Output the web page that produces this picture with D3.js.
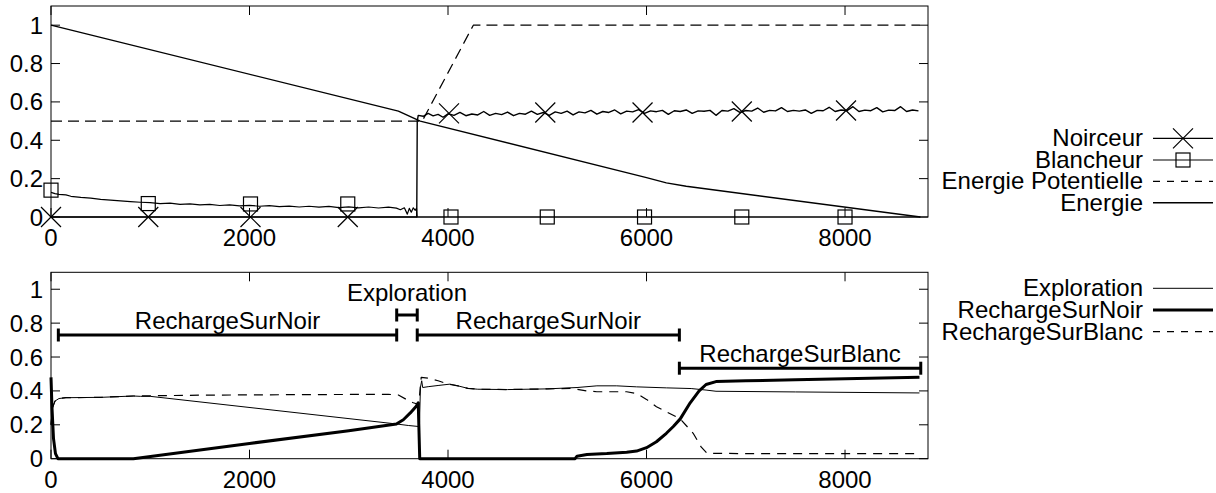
<!DOCTYPE html>
<html>
<head>
<meta charset="utf-8">
<script src="https://cdn.jsdelivr.net/npm/d3@7"></script>
<style>
    body { margin: 0; background: #fff; }
    text { font-family: "Liberation Sans", Arial, sans-serif; font-size: 24px; fill: #000; }
</style>
</head>
<body>
<div id="chartDiv"></div>
<script>
/* * * * * * * * * * * * * *
*           DATA           *
* * * * * * * * * * * * * */

const xTicks = [0, 2000, 4000, 6000, 8000];
const yTicks = [0, 0.2, 0.4, 0.6, 0.8, 1];
const yTickLabels = ['0', '0.2', '0.4', '0.6', '0.8', '1'];

const topLegend = ['Noirceur', 'Blancheur', 'Energie Potentielle', 'Energie'];
const bottomLegend = ['Exploration', 'RechargeSurNoir', 'RechargeSurBlanc'];

// top panel: [time, value]
const noirceur = [
    [0, 0], [3685, 0], [3690, 0.50], [3700, 0.53], [3750, 0.525], [3800, 0.54], [3850, 0.527], [3900, 0.535],
    [3950, 0.52], [4000, 0.538], [4060, 0.53], [4120, 0.545], [4180, 0.528], [4240, 0.537], [4300, 0.532],
    [4360, 0.55], [4420, 0.53], [4480, 0.54], [4540, 0.534], [4600, 0.547], [4660, 0.528], [4720, 0.54],
    [4780, 0.536], [4840, 0.552], [4900, 0.535], [4960, 0.545], [5020, 0.53], [5080, 0.548], [5140, 0.54],
    [5200, 0.552], [5260, 0.532], [5320, 0.548], [5380, 0.543], [5440, 0.556], [5500, 0.536], [5560, 0.55],
    [5620, 0.545], [5680, 0.558], [5740, 0.538], [5800, 0.552], [5860, 0.548], [5920, 0.56], [5980, 0.54],
    [6040, 0.553], [6100, 0.549], [6160, 0.556], [6220, 0.535], [6280, 0.554], [6340, 0.55], [6400, 0.558],
    [6460, 0.54], [6520, 0.553], [6580, 0.551], [6640, 0.556], [6700, 0.53], [6760, 0.555], [6820, 0.552],
    [6880, 0.565], [6940, 0.545], [7000, 0.555], [7060, 0.552], [7120, 0.568], [7180, 0.546], [7240, 0.556],
    [7300, 0.553], [7360, 0.57], [7420, 0.55], [7480, 0.556], [7540, 0.552], [7600, 0.558], [7660, 0.54],
    [7720, 0.556], [7780, 0.554], [7840, 0.572], [7900, 0.55], [7960, 0.558], [8020, 0.555], [8080, 0.575],
    [8140, 0.55], [8200, 0.557], [8260, 0.554], [8320, 0.57], [8380, 0.548], [8440, 0.557], [8500, 0.555],
    [8560, 0.575], [8620, 0.55], [8680, 0.558], [8740, 0.553]
];
const noirceurMarks = [[0, 0], [980, 0], [2010, 0], [2990, 0], [4010, 0.54], [4980, 0.545], [5960, 0.545], [6960, 0.55], [8010, 0.555]];

const blancheur = [
    [0, 0.128], [40, 0.122], [80, 0.118], [150, 0.115], [200, 0.108], [300, 0.102], [400, 0.098], [500, 0.092],
    [600, 0.088], [700, 0.084], [800, 0.08], [900, 0.077], [1000, 0.075], [1100, 0.07], [1200, 0.072],
    [1300, 0.066], [1400, 0.068], [1500, 0.063], [1600, 0.066], [1700, 0.06], [1800, 0.063], [1900, 0.058],
    [2000, 0.061], [2100, 0.056], [2200, 0.059], [2300, 0.054], [2400, 0.057], [2500, 0.052], [2600, 0.056],
    [2700, 0.051], [2800, 0.055], [2900, 0.049], [3000, 0.053], [3100, 0.048], [3200, 0.052], [3300, 0.047],
    [3400, 0.051], [3480, 0.046], [3520, 0.038], [3560, 0.048], [3590, 0.015], [3610, 0.045], [3630, 0.025],
    [3650, 0.048], [3670, 0.035], [3682, 0.045], [3688, 0], [8750, 0]
];
const blancheurMarks = [[0, 0.14], [980, 0.07], [2010, 0.068], [2990, 0.068], [4030, 0], [5000, 0], [5980, 0], [6960, 0], [8000, 0]];

const energiePotentielle = [[0, 0.5], [3740, 0.5], [4255, 1.0], [8750, 1.0]];
const energie = [[0, 1.0], [3500, 0.552], [3720, 0.50], [6000, 0.205], [6200, 0.178], [6400, 0.16], [8760, 0.0]];

// bottom panel: [time, value]
const exploration = [
    [0, 0.2], [15, 0.3], [40, 0.34], [80, 0.355], [150, 0.36], [500, 0.362], [830, 0.37], [900, 0.368],
    [1000, 0.368], [3480, 0.205], [3600, 0.196], [3705, 0.19], [3712, 0.19], [3722, 0.42], [3735, 0.46],
    [3745, 0.42], [3800, 0.425], [3900, 0.432], [4020, 0.44], [4100, 0.43], [4200, 0.415], [4300, 0.41],
    [4600, 0.408], [5000, 0.412], [5300, 0.42], [5500, 0.43], [5700, 0.43], [5900, 0.424], [6200, 0.418],
    [6450, 0.414], [6600, 0.405], [6700, 0.398], [7500, 0.394], [8750, 0.388]
];
const rechargeSurNoir = [
    [0, 0.48], [10, 0.3], [25, 0.12], [45, 0.03], [70, 0], [830, 0], [2000, 0.09], [3000, 0.165], [3480, 0.205],
    [3550, 0.23], [3620, 0.27], [3680, 0.31], [3700, 0.33], [3715, 0], [5280, 0], [5300, 0.015], [5400, 0.025],
    [5600, 0.03], [5800, 0.038], [5900, 0.045], [6000, 0.065], [6100, 0.1], [6200, 0.15], [6270, 0.19],
    [6340, 0.235], [6440, 0.33], [6530, 0.4], [6600, 0.438], [6700, 0.455], [7000, 0.46], [7500, 0.466],
    [8000, 0.472], [8750, 0.48]
];
const rechargeSurBlanc = [
    [0, 0.2], [15, 0.3], [40, 0.34], [80, 0.355], [150, 0.36], [500, 0.362], [830, 0.37], [1500, 0.375],
    [2500, 0.378], [3400, 0.38], [3500, 0.376], [3580, 0.35], [3650, 0.33], [3705, 0.32], [3730, 0.48],
    [3800, 0.475], [3900, 0.46], [4000, 0.44], [4100, 0.43], [4200, 0.415], [4300, 0.41], [4600, 0.408],
    [5000, 0.412], [5250, 0.415], [5400, 0.40], [5500, 0.395], [5800, 0.395], [5900, 0.385], [6000, 0.35],
    [6100, 0.307], [6340, 0.235], [6470, 0.15], [6550, 0.07], [6610, 0.032], [7000, 0.03], [8750, 0.03]
];

// behaviour phases drawn as brackets in the bottom panel (time range, value of bracket, value of label baseline)
const phaseNames = ['RechargeSurNoir', 'Exploration', 'RechargeSurNoir', 'RechargeSurBlanc'];
const phaseFrom = [74, 3483, 3690, 6331];
const phaseTo = [3483, 3690, 6331, 8763];
const phaseLevel = [0.73, 0.848, 0.73, 0.534];
const phaseLabelLevel = [0.766, 0.933, 0.766, 0.573];

/* * * * * * * * * * * * * *
*           MAIN           *
* * * * * * * * * * * * * */

const width = 1216, height = 493;
const svg = d3.select('#chartDiv')
    .append('svg')
    .attr('width', width)
    .attr('height', height);

const x = d3.scaleLinear().domain([0, 8836]).range([51, 928]);
const yTop = d3.scaleLinear().domain([0, 1.1]).range([217, 6]);
const yBottom = d3.scaleLinear().domain([0, 1.1]).range([458.7, 272.3]);

function drawFrame(y) {
    const g = svg.append('g');
    const [x0, x1] = x.range();
    const [y0, y1] = y.range();
    const tickLen = 9;

    // ticks, inward on both sides
    yTicks.forEach((t, i) => {
        g.append('line').attr('x1', x0).attr('x2', x0 + tickLen).attr('y1', y(t)).attr('y2', y(t))
            .attr('stroke', '#000');
        g.append('line').attr('x1', x1).attr('x2', x1 - tickLen).attr('y1', y(t)).attr('y2', y(t))
            .attr('stroke', '#000');
        g.append('text')
            .attr('x', 43)
            .attr('y', y(t) + 8.5)
            .attr('text-anchor', 'end')
            .text(yTickLabels[i]);
    });
    xTicks.forEach(t => {
        g.append('line').attr('x1', x(t)).attr('x2', x(t)).attr('y1', y0).attr('y2', y0 - tickLen)
            .attr('stroke', '#000');
        g.append('line').attr('x1', x(t)).attr('x2', x(t)).attr('y1', y1).attr('y2', y1 + tickLen)
            .attr('stroke', '#000');
        g.append('text')
            .attr('x', x(t))
            .attr('y', y0 + 29)
            .attr('text-anchor', 'middle')
            .text(t);
    });

    g.append('rect')
        .attr('x', x0).attr('y', y1)
        .attr('width', x1 - x0).attr('height', y0 - y1)
        .attr('fill', 'none')
        .attr('stroke', '#000')
        .attr('stroke-width', 1);
}

function drawSeries(data, y, sw, dash) {
    const line = d3.line().x(d => x(d[0])).y(d => y(d[1]));
    svg.append('path')
        .datum(data)
        .attr('d', line)
        .attr('fill', 'none')
        .attr('stroke', '#000')
        .attr('stroke-width', sw)
        .attr('stroke-linejoin', 'round')
        .attr('stroke-dasharray', dash || null);
}

function crossPath(cx, cy) {
    const r = 10;
    return `M${cx - r},${cy - r}L${cx + r},${cy + r}M${cx - r},${cy + r}L${cx + r},${cy - r}`;
}

function drawMarks(data, y, kind) {
    data.forEach(d => drawMark(x(d[0]), y(d[1]), kind));
}

function drawMark(cx, cy, kind) {
    if (kind === 'cross') {
        svg.append('path').attr('d', crossPath(cx, cy)).attr('stroke', '#000').attr('stroke-width', 1.2);
    } else {
        svg.append('rect')
            .attr('x', cx - 7).attr('y', cy - 7).attr('width', 14).attr('height', 14)
            .attr('fill', 'none').attr('stroke', '#000').attr('stroke-width', 1.2);
    }
}

function drawLegend(names, rowY, styles) {
    names.forEach((name, i) => {
        const yy = rowY[i];
        svg.append('text')
            .attr('x', 1143)
            .attr('y', yy + 8)
            .attr('text-anchor', 'end')
            .text(name);
        svg.append('line')
            .attr('x1', 1153).attr('x2', 1213).attr('y1', yy).attr('y2', yy)
            .attr('stroke', '#000')
            .attr('stroke-width', styles[i].sw)
            .attr('stroke-dasharray', styles[i].dash || null);
        if (styles[i].mark) drawMark(1183, yy, styles[i].mark);
    });
}

// top panel
drawFrame(yTop);
drawSeries(energiePotentielle, yTop, 1.2, '11,6');
drawSeries(energie, yTop, 1.4);
drawSeries(blancheur, yTop, 1.2);
drawSeries(noirceur, yTop, 1.4);
drawMarks(noirceurMarks, yTop, 'cross');
drawMarks(blancheurMarks, yTop, 'square');
drawLegend(topLegend, [138.3, 160, 181.3, 202.7], [
    {sw: 1.2, mark: 'cross'},
    {sw: 1.2, mark: 'square'},
    {sw: 1.2, dash: '7,7'},
    {sw: 1.4}
]);

// bottom panel
drawFrame(yBottom);
drawSeries(rechargeSurBlanc, yBottom, 1.2, '9,7');
drawSeries(exploration, yBottom, 1);
drawSeries(rechargeSurNoir, yBottom, 3);
drawLegend(bottomLegend, [288.3, 310, 331.7], [
    {sw: 1},
    {sw: 3},
    {sw: 1.2, dash: '7,7'}
]);

// phase brackets
phaseNames.forEach((name, i) => {
    const xa = x(phaseFrom[i]), xb = x(phaseTo[i]), yy = yBottom(phaseLevel[i]);
    svg.append('line').attr('x1', xa).attr('x2', xb).attr('y1', yy).attr('y2', yy)
        .attr('stroke', '#000').attr('stroke-width', 3);
    [xa, xb].forEach(xe => {
        svg.append('line').attr('x1', xe).attr('x2', xe).attr('y1', yy - 6.5).attr('y2', yy + 6.5)
            .attr('stroke', '#000').attr('stroke-width', 3);
    });
    svg.append('text')
        .attr('x', (xa + xb) / 2)
        .attr('y', yBottom(phaseLabelLevel[i]))
        .attr('text-anchor', 'middle')
        .text(name);
});
</script>
</body>
</html>
